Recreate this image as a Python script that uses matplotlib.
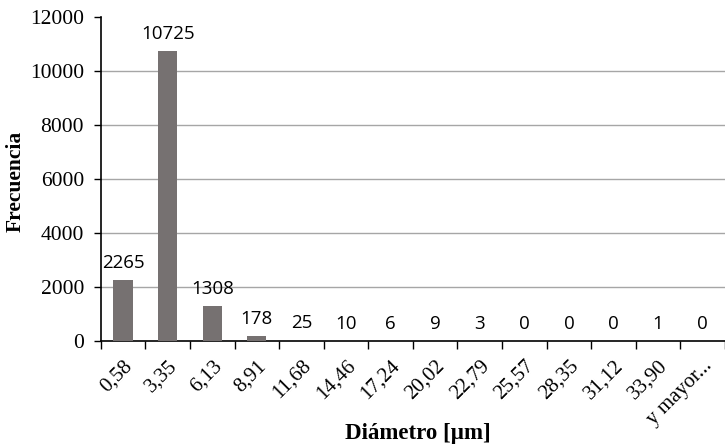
import numpy as np
import matplotlib.pyplot as plt
from matplotlib.ticker import FixedLocator

categorias = ["0,58", "3,35", "6,13", "8,91", "11,68", "14,46", "17,24",
              "20,02", "22,79", "25,57", "28,35", "31,12", "33,90", "y mayor..."]
frecuencia = [2265, 10725, 1308, 178, 25, 10, 6, 9, 3, 0, 0, 0, 1, 0]

fig = plt.figure(figsize=(7.25, 4.46), dpi=100)
ax = fig.add_axes([0.139, 0.235, 0.861, 0.727])

x = np.arange(len(categorias))
ax.bar(x, frecuencia, width=0.43, color="#767171", zorder=3)

for xi, v in zip(x, frecuencia):
    ax.annotate(str(v), (xi, v), xytext=(0, 6), textcoords="offset points",
                ha="center", va="bottom", fontsize=13.5, family="Open Sans")

ax.set_xlim(-0.5, len(categorias) - 0.5)
ax.set_ylim(0, 12000)
ax.set_yticks(range(0, 12001, 2000))
ax.set_yticklabels([str(v) for v in range(0, 12001, 2000)],
                   family="Liberation Serif", fontsize=15.5)

ax.set_xticks(x)
ax.set_xticklabels(categorias, rotation=45, ha="right", rotation_mode="anchor",
                   family="Liberation Serif", fontsize=15)
ax.tick_params(axis="x", which="major", length=0, pad=11)
ax.xaxis.set_minor_locator(FixedLocator(np.arange(-0.5, len(categorias), 1)))
ax.tick_params(axis="x", which="minor", length=6, width=1, direction="out")
ax.tick_params(axis="y", length=5, width=1, direction="out", pad=7)

for yv in range(2000, 12000, 2000):
    ax.axhline(yv, color="#a6a6a6", linewidth=1, zorder=1)

for s in ["top", "right"]:
    ax.spines[s].set_visible(False)
ax.spines["left"].set_linewidth(1.2)
ax.spines["bottom"].set_linewidth(1.2)

ax.set_ylabel("Frecuencia", family="Liberation Serif", fontsize=15.5,
              fontweight="bold")
ax.yaxis.set_label_coords(-0.12, 0.494)
ax.set_xlabel("Diámetro [µm]", family="Liberation Serif", fontsize=16.5,
              fontweight="bold")
ax.xaxis.set_label_coords(0.508, -0.252)

fig.savefig("out.png", dpi=100)
